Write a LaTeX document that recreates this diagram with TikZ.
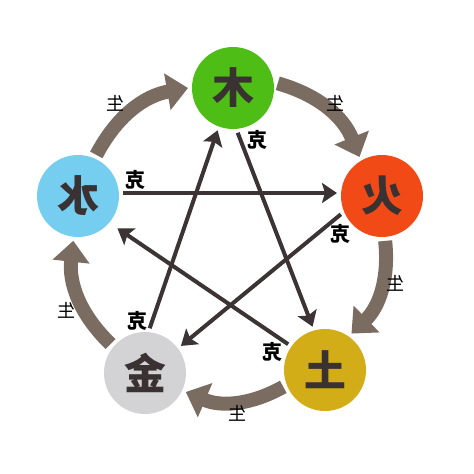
\documentclass[tikz,border=0pt]{standalone}
\usepackage{fontspec}
\usepackage{graphicx}
\newfontfamily\cjk{Noto Sans CJK SC}
\usetikzlibrary{arrows.meta}

\newlength{\du}
\setlength{\du}{1pt}

\definecolor{woodcolor}{RGB}{78,190,22}
\definecolor{firecolor}{RGB}{242,74,22}
\definecolor{watercolor}{RGB}{117,205,240}
\definecolor{earthcolor}{RGB}{210,173,24}
\definecolor{metalcolor}{RGB}{211,211,213}
\definecolor{shengcolor}{RGB}{122,108,97}
\definecolor{kecolor}{RGB}{60,52,52}
\definecolor{inkcolor}{RGB}{58,50,50}

\tikzset{
  element/.style={circle, minimum size=82\du, inner sep=0pt, outer sep=4\du,
    text=inkcolor, font=\cjk\bfseries\fontsize{42}{42}\selectfont},
  sheng/.style={draw=shengcolor, line width=14\du,
    -{Triangle[length=21pt,width=36pt]}},
  ke/.style={draw=kecolor, line width=4\du,
    -{Stealth[length=15pt,width=20pt,inset=3pt]}},
  shenglabel/.style={text=black, font=\cjk\fontsize{18}{18}\selectfont},
  kelabel/.style={text=black, font=\cjk\bfseries\fontsize{20}{20}\selectfont},
}

\begin{document}
\begin{tikzpicture}[x=\du, y=-\du]
\useasboundingbox (0,0) rectangle (474,474);
% elements
\node[element, fill=woodcolor] (wood) at (233,88) {\reflectbox{木}};
\node[element, fill=firecolor] (fire) at (382,196) {\reflectbox{火}};
\node[element, fill=earthcolor] (earth) at (325,370) {\reflectbox{土}};
\node[element, fill=metalcolor] (metal) at (145,373) {\reflectbox{金}};
\node[element, fill=watercolor] (water) at (78,196) {\reflectbox{水}};
% sheng cycle
\draw[sheng] (water.66) to[bend left=26] (wood.180);
\draw[sheng] (wood.6) to[bend left=26] (fire.120);
\draw[sheng] (fire.-86) to[bend left=26] (earth.54);
\draw[sheng] (earth.202) to[bend left=26] (metal.-25);
\draw[sheng] (metal.140) to[bend left=26] (water.-96);
\node[shenglabel] (s-water) at (115,103) {\reflectbox{生}};
\node[shenglabel] (s-wood) at (335,103) {\reflectbox{生}};
\node[shenglabel] (s-fire) at (395,283) {\reflectbox{生}};
\node[shenglabel] (s-earth) at (237,413) {\reflectbox{生}};
\node[shenglabel] (s-metal) at (67,310) {\reflectbox{生}};
% ke star
\draw[ke] ([yshift=3\du]water.east) -- ([yshift=3\du]fire.west);
\draw[ke] (wood.-84) -- (earth.106);
\draw[ke] (fire.204) -- (metal.37);
\draw[ke, shorten >=6\du] (earth.145) -- (water.-40);
\draw[ke] (metal.84) -- (wood.250);
\node[kelabel] (k-water) at (135,180) {\reflectbox{克}};
\node[kelabel] (k-wood) at (257,140) {\reflectbox{克}};
\node[kelabel] (k-fire) at (340,234) {\reflectbox{克}};
\node[kelabel] (k-earth) at (272,352) {\reflectbox{克}};
\node[kelabel] (k-metal) at (137,321) {\reflectbox{克}};
\end{tikzpicture}
\end{document}
